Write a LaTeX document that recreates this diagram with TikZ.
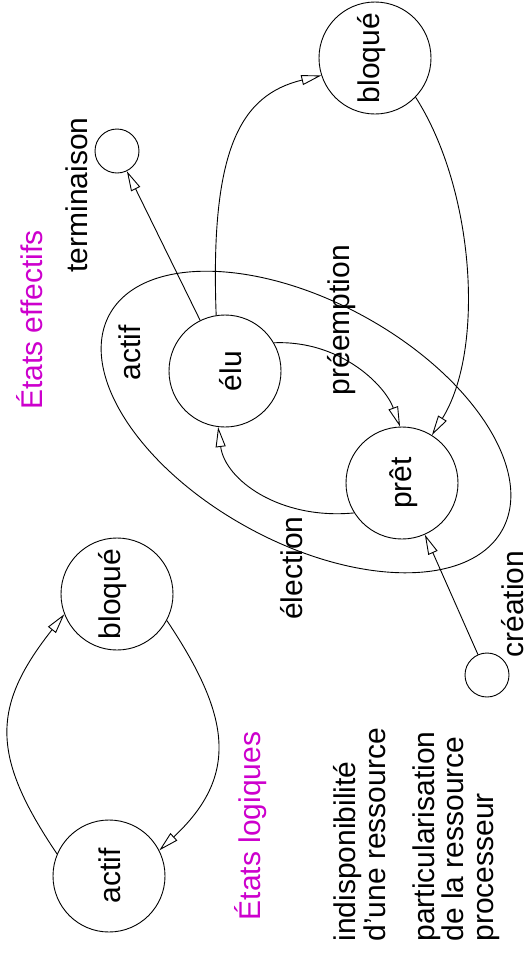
\documentclass[tikz,border=0pt]{standalone}
\usepackage{fontspec}
\setmainfont{Liberation Sans}
\usetikzlibrary{arrows.meta,shapes.geometric}
\definecolor{titlemagenta}{RGB}{205,0,205}
\begin{document}
\begin{tikzpicture}[x=1pt,y=-1pt,
  line width=0.9pt,
  every node/.style={font=\fontsize{30}{29.5}\selectfont},
  state/.style={draw, circle, minimum size=112pt, inner sep=0pt, rotate=90},
  endpoint/.style={draw, circle, minimum size=44pt, inner sep=0pt},
  vlabel/.style={rotate=90, inner sep=0pt, anchor=base},
  trans/.style={-{Triangle[open,length=20pt,width=10pt]}}]
\useasboundingbox (0,0) rectangle (526,962);

% logical states
\node[state, text height=22pt, text depth=0pt] (lactif) at (109,876) {actif};
\node[state, text height=6pt, text depth=0pt] (lbloque) at (117,594) {bloqué};

% effective states
\node[state, text height=8pt, text depth=0pt] (bloque) at (375,58) {bloqué};
\node[state, text height=32pt, text depth=0pt] (elu) at (225,371) {élu};
\node[state, text height=18pt, text depth=0pt] (pret) at (402,483) {prêt};
\node[endpoint] (term) at (117,151) {};
\node[endpoint] (crea) at (487,675) {};
\node[draw, ellipse, minimum width=448pt, minimum height=241pt, inner sep=0pt,
      rotate=-28.7] (actifset) at (306,422) {};

% transitions between logical states
\draw[trans] (lactif.67) .. controls (-9,756) and (-9,707) .. (lbloque.111);
\draw[trans] (lbloque.242) .. controls (230,715) and (240,775) .. (lactif.-63);

% transitions between effective states
\draw[trans] (elu.9) .. controls (210,150) and (240,95) .. (bloque.108);
\draw[trans] (bloque.226) .. controls (475,190) and (485,350) .. (pret.-32);
\draw[trans] (elu.-60) .. controls (340,340) and (385,385) .. (pret.2);
\draw[trans] (pret.122) .. controls (280,520) and (225,480) .. (elu.173);
\draw[trans] (elu) -- (term);
\draw[trans] (crea) -- (pret);

% labels
\node[vlabel] (lterm) at (87,195) {terminaison};
\node[vlabel, text=titlemagenta] (eff) at (42,320) {États effectifs};
\node[vlabel] (lactifset) at (140,353) {actif};
\node[vlabel] (lpre) at (349,320) {préemption};
\node[vlabel] (lelec) at (302,568) {élection};
\node[vlabel] (lcrea) at (523,604) {création};
\node[vlabel, text=titlemagenta] (log) at (260,826) {États logiques};
% multi-line notes: the base anchor sits on the last line
\node[vlabel, anchor=base west, align=left] (note1) at (385,942)
  {indisponibilité\\d’une ressource};
\node[vlabel, anchor=base west, align=left] (note2) at (493,942)
  {particularisation\\de la ressource\\processeur};
\end{tikzpicture}
\end{document}
